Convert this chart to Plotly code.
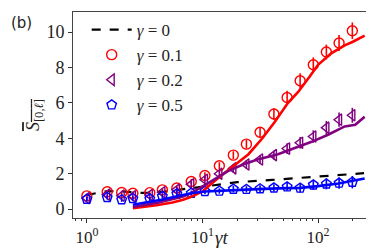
import plotly.graph_objects as go

# Markers (simulation)
t_pts = [1, 1.5, 2, 2.5, 3.5, 4.5, 6, 8, 10.5, 14, 18.5, 24, 31.5, 41.5, 54, 70, 91, 118, 152, 198]
red_pts = [0.75, 0.98, 0.94, 0.9, 0.93, 1.09, 1.19, 1.56, 1.9, 2.45, 3.05, 3.67, 4.34, 5.37, 6.3, 7.25, 8.15, 8.87, 9.38, 10.07]
red_err = [0.1, 0.1, 0.1, 0.1, 0.1, 0.1, 0.12, 0.15, 0.18, 0.2, 0.22, 0.25, 0.3, 0.33, 0.38, 0.42, 0.42, 0.42, 0.45, 0.47]
pur_pts = [0.62, 0.82, 0.76, 0.72, 0.8, 0.95, 1.1, 1.4, 1.66, 2.0, 2.3, 2.52, 2.8, 3.05, 3.42, 3.75, 4.1, 4.6, 5.05, 5.3]
pur_err = [0.1, 0.1, 0.1, 0.1, 0.1, 0.12, 0.15, 0.2, 0.22, 0.22, 0.22, 0.25, 0.25, 0.25, 0.3, 0.32, 0.35, 0.38, 0.4, 0.42]
blu_pts = [0.56, 0.66, 0.53, 0.6, 0.58, 0.72, 0.86, 0.9, 1.0, 1.02, 1.13, 1.12, 1.15, 1.2, 1.26, 1.19, 1.37, 1.42, 1.47, 1.52]
blu_err = [0.12, 0.12, 0.12, 0.12, 0.12, 0.12, 0.15, 0.15, 0.15, 0.15, 0.18, 0.18, 0.2, 0.2, 0.22, 0.25, 0.28, 0.3, 0.32, 0.35]

# Lines (theory)
t0 = [1, 1.5, 2, 3, 4, 6, 10, 20, 40, 100, 250]
black_line = [0.8, 1.02, 1.0, 0.92, 0.93, 1.08, 1.28, 1.52, 1.65, 1.85, 2.03]

t_red = [2.5, 4, 5.5, 6.8, 8, 10, 13.6, 19, 25, 33, 42, 55, 67, 85, 100, 130, 170, 200, 253]
red_line = [0.05, 0.22, 0.38, 0.53, 0.7, 1.0, 1.75, 2.5, 3.1, 4.0, 4.9, 6.0, 6.6, 7.5, 8.15, 8.8, 9.25, 9.45, 9.8]
t_pur = [2.5, 4, 6.8, 8, 11.2, 16.6, 23, 30, 45, 55, 70, 88, 122, 170, 210, 253]
pur_line = [0.12, 0.35, 0.72, 0.9, 1.47, 2.15, 2.55, 2.8, 3.1, 3.3, 3.55, 3.8, 4.2, 4.67, 4.76, 5.22]
t_blu = [2.5, 4.4, 6.8, 8, 10.5, 15, 20, 30, 45, 70, 100, 122, 150, 200, 253]
blu_line = [0.25, 0.53, 0.8, 0.9, 1.0, 1.05, 1.1, 1.13, 1.17, 1.2, 1.3, 1.37, 1.45, 1.6, 1.73]

labels = ["<i>γ</i> = 0", "<i>γ</i> = 0.1", "<i>γ</i> = 0.2", "<i>γ</i> = 0.5"]
RED, PUR, BLU = "#ff0000", "#800080", "#0000ff"
SERIF = "serif"

fig = go.Figure()
fig.add_trace(go.Scatter(x=t0, y=black_line, mode="lines", name=labels[0],
                         line=dict(color="black", width=2.2, dash="dash"), legendgroup="a"))
for name, col, sym, pts, err, g in [
    (labels[1], RED, "circle-open", red_pts, red_err, "b"),
    (labels[2], PUR, "triangle-left-open", pur_pts, pur_err, "c"),
    (labels[3], BLU, "pentagon-open", blu_pts, blu_err, "d"),
]:
    fig.add_trace(go.Scatter(x=t_pts, y=pts, mode="markers", name=name, legendgroup=g,
                             marker=dict(symbol=sym, size=10, color=col, line=dict(width=1.4, color=col)),
                             error_y=dict(type="data", array=err, color=col, thickness=1.6, width=0)))
for tt, yy, col in [(t_red, red_line, RED), (t_pur, pur_line, PUR), (t_blu, blu_line, BLU)]:
    fig.add_trace(go.Scatter(x=tt, y=yy, mode="lines", showlegend=False,
                             line=dict(color=col, width=2.6)))

minor_vals = [0.8, 0.9] + [k * 10 ** e for e in (0, 1) for k in range(2, 10)] + [200, 300]

fig.update_layout(
    width=374, height=249,
    margin=dict(l=65, r=5, t=4, b=39),
    paper_bgcolor="white", plot_bgcolor="white",
    font=dict(family=SERIF, size=16, color="#222"),
    showlegend=True,
    legend=dict(x=0.045, y=1.0, xanchor="left", yanchor="top", bgcolor="rgba(0,0,0,0)",
                font=dict(size=17, family=SERIF), tracegroupgap=0, itemwidth=40),
    xaxis=dict(type="log", range=[-0.12, 2.51], showgrid=False, zeroline=False,
               tickvals=[1, 10, 100], ticktext=["10<sup>0</sup>", "10<sup>1</sup>", "10<sup>2</sup>"],
               ticks="outside", ticklen=4, tickcolor="#333",
               showline=True, linecolor="#444", linewidth=1, mirror=True,
               minor=dict(ticks="outside", ticklen=2, tickcolor="#333", tickvals=minor_vals),
               tickfont=dict(size=17, family=SERIF)),
    yaxis=dict(range=[-0.5, 11.13], showgrid=False, zeroline=False,
               tickvals=[0, 2, 4, 6, 8, 10],
               ticks="outside", ticklen=4, tickcolor="#333",
               showline=True, linecolor="#444", linewidth=1, mirror=True,
               tickfont=dict(size=18, family=SERIF)),
)
fig.add_annotation(text="<i>γt</i>", xref="paper", yref="paper", x=0.46, y=-0.095,
                   xanchor="left", yanchor="middle", showarrow=False, font=dict(size=19, family=SERIF))
fig.add_annotation(text="<span style='text-decoration:overline'><i>S</i><sub>[0,<i>ℓ</i>]</sub></span>",
                   xref="paper", yref="paper", x=-0.128, y=0.5, xanchor="center", yanchor="middle",
                   textangle=-90, showarrow=False, font=dict(size=18, family=SERIF))
fig.add_annotation(text="(b)", xref="paper", yref="paper", x=-0.21, y=1.0, xanchor="left", yanchor="top",
                   showarrow=False, font=dict(size=15, family="DejaVu Sans"))

fig.write_html("out.html")
